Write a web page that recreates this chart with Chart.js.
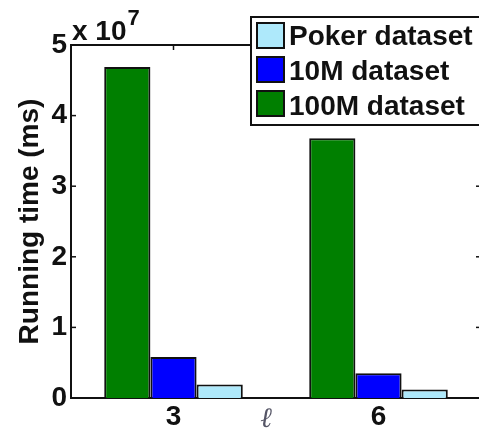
<!DOCTYPE html>
<html><head><meta charset="utf-8">
<script src="https://cdn.jsdelivr.net/npm/chart.js@4/dist/chart.umd.min.js"></script>
<style>html,body{margin:0;padding:0;overflow:hidden;background:#fff;width:479px;height:433px}canvas{display:block}</style>
</head><body><canvas id="c" width="484" height="433"></canvas>
<script>
const categories = ['3', '6'];
const seriesNames = ['100M dataset', '10M dataset', 'Poker dataset'];
const values100M = [4.69e7, 3.68e7];
const values10M = [0.58e7, 0.35e7];
const valuesPoker = [0.19e7, 0.12e7];
const yTickValues = [0, 1, 2, 3, 4, 5];
const colors = ['#007f00', '#0000ff', '#aee9fb'];
const FONT = 'Liberation Sans, Arial, sans-serif';

function line(ctx, x1, y1, x2, y2) { ctx.beginPath(); ctx.moveTo(x1, y1); ctx.lineTo(x2, y2); ctx.stroke(); }

const boxPlugin = {
  id: 'box',
  beforeDatasetsDraw(chart) {
    const { ctx, chartArea: a, scales: { x, y } } = chart;
    ctx.save();
    ctx.strokeStyle = '#111';
    ctx.lineWidth = 2;
    ctx.strokeRect(a.left, a.top, a.right - a.left, a.bottom - a.top);
    ctx.lineWidth = 1.5;
    yTickValues.forEach(t => {
      const py = y.getPixelForValue(t * 1e7);
      line(ctx, a.left, py, a.left + 5, py);
      line(ctx, a.right - 5, py, a.right, py);
    });
    categories.forEach((c, i) => {
      const px = x.getPixelForValue(i);
      line(ctx, px, a.top, px, a.top + 5);
    });
    ctx.restore();
  },
  afterDraw(chart) {
    const { ctx, chartArea: a } = chart;
    ctx.save();
    ctx.fillStyle = '#111';
    // exponent label
    ctx.font = 'bold 28px ' + FONT;
    ctx.textAlign = 'left';
    ctx.textBaseline = 'alphabetic';
    ctx.fillText('x 10', 72, 40);
    const w = ctx.measureText('x 10').width;
    ctx.font = 'bold 22px ' + FONT;
    ctx.fillText('7', 72 + w + 1, 25);
    // y title
    ctx.save();
    ctx.translate(38, (a.top + a.bottom) / 2);
    ctx.rotate(-Math.PI / 2);
    ctx.font = 'bold 28px ' + FONT;
    ctx.textAlign = 'center';
    ctx.textBaseline = 'alphabetic';
    ctx.fillText('Running time (ms)', 0, 0);
    ctx.restore();
    // x title
    ctx.font = 'italic 28px DejaVu Serif, serif';
    ctx.fillStyle = '#556';
    ctx.textAlign = 'center';
    ctx.fillText('\u2113', 266, 427);
    // legend
    ctx.fillStyle = '#fff';
    ctx.fillRect(251, 17, 240, 108);
    ctx.strokeStyle = '#111';
    ctx.lineWidth = 2;
    ctx.strokeRect(251, 17, 240, 108);
    const ds = chart.data.datasets;
    const order = [2, 1, 0];
    const baselines = [45, 80, 115];
    order.forEach((di, i) => {
      const sy = 23 + i * 34;
      ctx.fillStyle = ds[di].backgroundColor;
      ctx.fillRect(257, sy, 27, 25);
      ctx.strokeStyle = '#111';
      ctx.lineWidth = 2;
      ctx.strokeRect(257, sy, 27, 25);
      ctx.fillStyle = '#111';
      ctx.font = 'bold 28px ' + FONT;
      ctx.textAlign = 'left';
      ctx.fillText(ds[di].label, 289, baselines[i]);
    });
    ctx.restore();
  }
};

new Chart(document.getElementById('c'), {
  type: 'bar',
  data: {
    labels: categories,
    datasets: [
      { label: seriesNames[0], data: values100M, backgroundColor: colors[0] },
      { label: seriesNames[1], data: values10M, backgroundColor: colors[1] },
      { label: seriesNames[2], data: valuesPoker, backgroundColor: colors[2] }
    ].map(d => Object.assign(d, { borderColor: '#111', borderWidth: 2, categoryPercentage: 0.676, barPercentage: 1 }))
  },
  options: {
    responsive: false,
    animation: false,
    devicePixelRatio: 1,
    layout: { padding: { left: 0, top: 45, right: 3, bottom: 0 } },
    plugins: { legend: { display: false }, tooltip: { enabled: false } },
    scales: {
      x: {
        grid: { display: false, drawTicks: false },
        border: { display: false },
        ticks: { font: { family: FONT, size: 28, weight: 'bold' }, color: '#111', padding: 2 },
        afterFit: s => { s.height = 35; }
      },
      y: {
        min: 0, max: 5e7,
        grid: { display: false, drawTicks: false },
        border: { display: false },
        ticks: { stepSize: 1e7, font: { family: FONT, size: 28, weight: 'bold' }, color: '#111', padding: 4,
                 callback: v => String(v / 1e7) },
        afterFit: s => { s.width = 71; }
      }
    }
  },
  plugins: [boxPlugin]
});
</script>
</body></html>
